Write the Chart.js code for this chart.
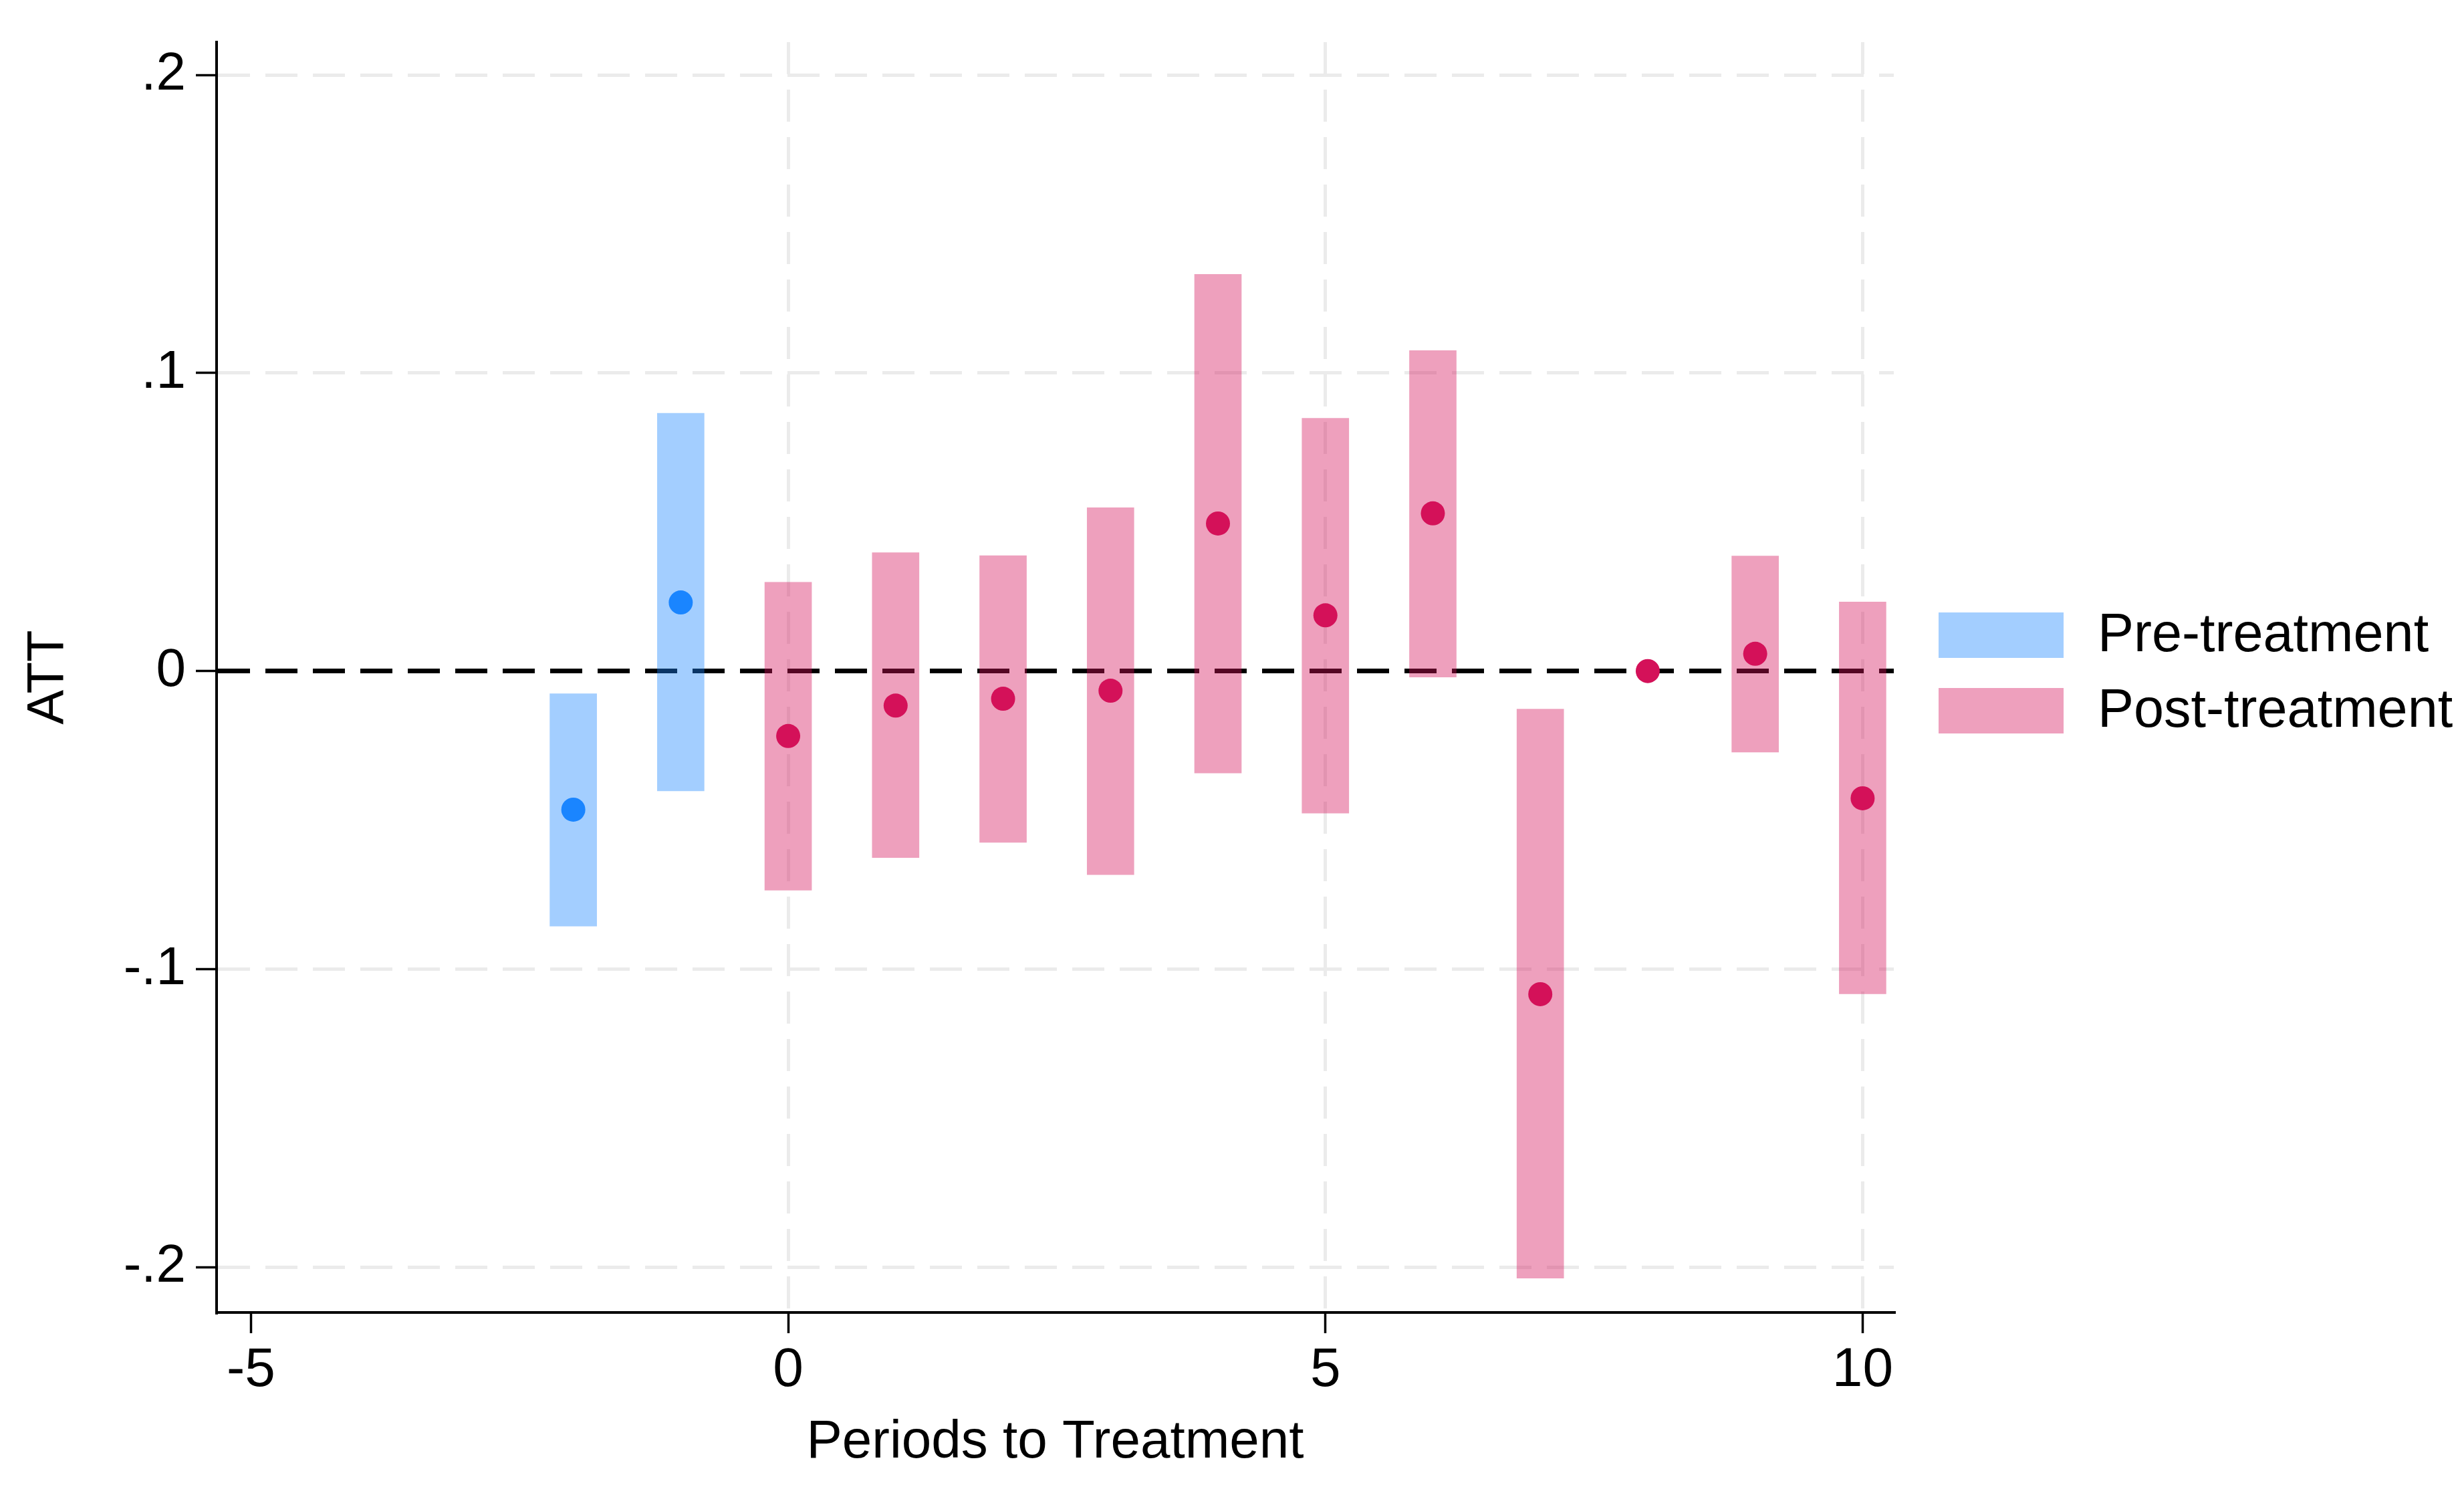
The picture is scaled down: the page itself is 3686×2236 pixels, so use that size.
<!DOCTYPE html>
<html>
<head>
<meta charset="utf-8">
<title>Event study ATT</title>
<script src="https://cdn.jsdelivr.net/npm/chart.js@4.4.1/dist/chart.umd.min.js"></script>
<style>
  html, body { margin: 0; padding: 0; background: #fff; }
  #chart { display: block; }
</style>
</head>
<body>
<canvas id="chart" width="3686" height="2236" style="width:3686px;height:2236px;"></canvas>
<script>
// ---- data ----
const preX = [-2, -1];
const preEst = [-0.0465, 0.0230];
const preLo = [-0.0856, -0.0402];
const preHi = [-0.0076, 0.0865];

const postX = [0, 1, 2, 3, 4, 5, 6, 7, 8, 9, 10];
const postEst = [-0.0218, -0.0116, -0.0093, -0.0066, 0.0495, 0.0187, 0.0529, -0.1084, 0.0, 0.0058, -0.0427];
const postLo = [-0.0735, -0.0626, -0.0575, -0.0683, -0.0342, -0.0477, -0.0020, -0.2037, null, -0.0272, -0.1083];
const postHi = [0.0298, 0.0397, 0.0387, 0.0548, 0.1331, 0.0848, 0.1075, -0.0128, null, 0.0386, 0.0232];

const xTicks = [-5, 0, 5, 10];
const yTicks = [-0.2, -0.1, 0, 0.1, 0.2];
const yTickLabels = ['-.2', '-.1', '0', '.1', '.2'];

// ---- style ----
const FONT = '"Liberation Sans", Arial, Helvetica, sans-serif';
const blue = '#1A85FF';
const red = '#D41159';
const blueBar = 'rgba(26,133,255,0.4)';
const redBar = 'rgba(212,17,89,0.4)';
const gridGrey = '#ebebeb';
const dash = [48, 23];

const ciData = (xs, lo, hi) => xs.map((x, i) => ({ x: x, y: lo[i] === null ? null : [lo[i], hi[i]] }));
const ptData = (xs, est) => xs.map((x, i) => ({ x: x, y: est[i] }));

// legend in the right margin, like Stata's
const sideLegend = {
    id: 'sideLegend',
    afterDraw(chart) {
        const ctx = chart.ctx;
        const items = chart.data.datasets.filter(d => d.type === 'bar');
        ctx.save();
        ctx.font = '81px ' + FONT;
        ctx.textBaseline = 'middle';
        items.forEach((d, i) => {
            const top = 916 + i * 113;
            ctx.fillStyle = d.backgroundColor;
            ctx.fillRect(2900, top, 187, 68);
            ctx.fillStyle = '#000';
            ctx.fillText(d.label, 3138, top + 36);
        });
        ctx.restore();
    }
};

new Chart(document.getElementById('chart'), {
    type: 'bar',
    data: {
        datasets: [
            { type: 'scatter', label: 'Pre est', data: ptData(preX, preEst), backgroundColor: blue, borderWidth: 0, pointRadius: 18, order: 0 },
            { type: 'scatter', label: 'Post est', data: ptData(postX, postEst), backgroundColor: red, borderWidth: 0, pointRadius: 18, order: 0 },
            { type: 'bar', label: 'Pre-treatment', data: ciData(preX, preLo, preHi), backgroundColor: blueBar, borderWidth: 0, barThickness: 70, grouped: false, order: 1 },
            { type: 'bar', label: 'Post-treatment', data: ciData(postX, postLo, postHi), backgroundColor: redBar, borderWidth: 0, barThickness: 70, grouped: false, order: 1 }
        ]
    },
    options: {
        responsive: false,
        devicePixelRatio: 1,
        animation: false,
        layout: { padding: { left: 20, top: 52, right: 853, bottom: 25 } },
        plugins: { legend: { display: false }, tooltip: { enabled: false } },
        scales: {
            x: {
                type: 'linear',
                min: -5.32,
                max: 10.29,
                offset: false,
                afterBuildTicks: s => { s.ticks = xTicks.map(v => ({ value: v })); },
                afterFit: s => { s.height = 2236 - 25 - 1963; },
                ticks: { font: { family: FONT, size: 82 }, color: '#000', padding: 7, maxRotation: 0 },
                grid: {
                    offset: false,
                    color: c => (c.tick && c.tick.value === -5) ? 'rgba(0,0,0,0)' : gridGrey,
                    lineWidth: 5,
                    tickColor: '#000',
                    tickLength: 31,
                    tickWidth: 3.5
                },
                border: { display: true, color: '#000', width: 4, dash: dash },
                title: { display: true, text: 'Periods to Treatment', color: '#000', font: { family: FONT, size: 80 }, padding: { top: 0, bottom: 5 } }
            },
            y: {
                type: 'linear',
                min: -0.2152,
                max: 0.211,
                afterBuildTicks: s => { s.ticks = yTicks.map(v => ({ value: v })); },
                afterFit: s => { s.width = 324 - 20; },
                ticks: {
                    font: { family: FONT, size: 80 },
                    color: '#000',
                    padding: 15,
                    callback: v => yTickLabels[yTicks.indexOf(v)]
                },
                grid: {
                    color: c => (c.tick && c.tick.value === 0) ? '#000' : gridGrey,
                    lineWidth: c => (c.tick && c.tick.value === 0) ? 7 : 5,
                    tickColor: '#000',
                    tickLength: 31,
                    tickWidth: 3.5
                },
                border: { display: true, color: '#000', width: 4, dash: dash },
                title: { display: true, text: 'ATT', color: '#000', font: { family: FONT, size: 78 }, padding: { top: 7, bottom: 0 } }
            }
        }
    },
    plugins: [sideLegend]
});
</script>
</body>
</html>
